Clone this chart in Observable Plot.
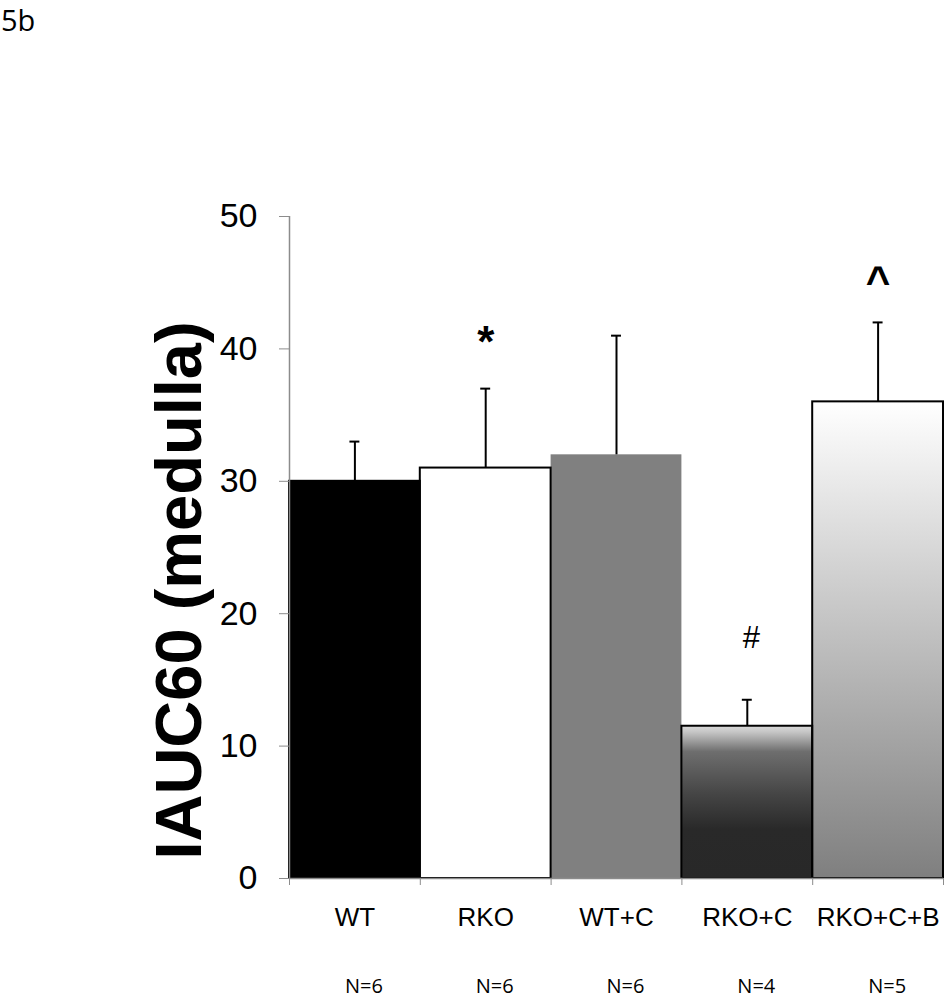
<!DOCTYPE html>
<html><head><meta charset="utf-8">
<script src="https://cdn.jsdelivr.net/npm/d3@7"></script>
<script src="https://cdn.jsdelivr.net/npm/@observablehq/plot@0.6"></script>
<style>
body{margin:0;background:#fff;}
#wrap{position:relative;width:945px;height:1000px;}
#tag{position:absolute;left:1px;top:0px;font-family:"Open Sans";font-size:29px;line-height:normal;color:#000;}
#chart svg{display:block;}
</style></head><body>
<div id="wrap"><div id="chart"></div><div id="tag">5b</div></div>
<script>
const groups = ["WT", "RKO", "WT+C", "RKO+C", "RKO+C+B"];
const means = [30, 31, 32, 11.5, 36];
const errors = [3, 6, 9, 2, 6];
const nLabels = ["N=6", "N=6", "N=6", "N=4", "N=5"];
const sigLabels = ["", "*", "", "#", "^"];
const sigLevels = [null, 39.4, null, 17.4, 44.0];
const yTicks = [0, 10, 20, 30, 40, 50];
const yLabel = "IAUC60 (medulla)";

const data = groups.map((g, i) => ({group: g, i, mean: means[i], err: errors[i], n: nLabels[i], sig: sigLabels[i], sigY: sigLevels[i]}));

const defs = () => {
  const ns = "http://www.w3.org/2000/svg";
  const d = document.createElementNS(ns, "defs");
  d.innerHTML = `
    <linearGradient id="gradRKOC" x1="0" y1="0" x2="0" y2="1">
      <stop offset="0" stop-color="#dadada"/>
      <stop offset="0.04" stop-color="#c6c6c6"/>
      <stop offset="0.17" stop-color="#6e6e6e"/>
      <stop offset="0.45" stop-color="#454545"/>
      <stop offset="0.68" stop-color="#292929"/>
      <stop offset="1" stop-color="#282828"/>
    </linearGradient>
    <linearGradient id="gradRKOCB" x1="0" y1="0" x2="0" y2="1">
      <stop offset="0" stop-color="#ffffff"/>
      <stop offset="1" stop-color="#7f7f7f"/>
    </linearGradient>`;
  return d;
};

const axisGray = "#8c8c8c";
const font = "'Liberation Sans', Arial, sans-serif";

const plot = Plot.plot({
  width: 945, height: 1000,
  marginTop: 216, marginBottom: 122, marginLeft: 289, marginRight: 2,
  style: {fontFamily: font, background: "white", color: "black"},
  x: {domain: [0, groups.length]},
  y: {domain: [0, 50]},
  color: {domain: groups, range: ["#000000", "#ffffff", "#808080", "url(#gradRKOC)", "url(#gradRKOCB)"]},
  marks: [
    defs,
    Plot.rectY(data, {x1: "i", x2: d => d.i + 1, y: "mean", fill: "group"}),
    Plot.rectY(data.filter(d => d.group !== "WT+C"), {x1: "i", x2: d => d.i + 1, y: "mean", fill: "none", stroke: "black", strokeWidth: 2}),
    Plot.ruleX(data, {x: d => d.i + 0.5, y1: "mean", y2: d => d.mean + d.err, stroke: "black", strokeWidth: 2}),
    Plot.ruleY(data, {y: d => d.mean + d.err, x1: d => d.i + 0.462, x2: d => d.i + 0.538, stroke: "black", strokeWidth: 2}),
    Plot.ruleX([0], {y1: 0, y2: 50, stroke: axisGray, strokeWidth: 1.5}),
    Plot.ruleY([0], {stroke: axisGray, strokeWidth: 1.5}),
    Plot.axisY({ticks: yTicks, tickSize: 10, tickPadding: 22, fontSize: 34, stroke: axisGray, fill: "black", label: null}),
    Plot.axisX({ticks: d3.range(groups.length + 1), tickSize: 7, tickFormat: () => "", stroke: axisGray, label: null}),
    Plot.text(data, {x: d => d.i + 0.5, text: "group", frameAnchor: "bottom", lineAnchor: "bottom", dy: 47, fontSize: 26}),
    Plot.text(data, {x: d => d.i + 0.5, text: "n", frameAnchor: "bottom", lineAnchor: "bottom", dy: 114, dx: 9, fontSize: 20, fontFamily: "Open Sans"}),
    Plot.text(data.filter(d => d.sig === "*"), {x: d => d.i + 0.5, y: "sigY", text: "sig", lineAnchor: "bottom", fontSize: 44, fontWeight: "bold"}),
    Plot.text(data.filter(d => d.sig === "^"), {x: d => d.i + 0.5, y: "sigY", text: "sig", lineAnchor: "bottom", fontSize: 42, fontWeight: "bold"}),
    Plot.text(data.filter(d => d.sig === "#"), {x: d => d.i + 0.5, y: "sigY", text: "sig", lineAnchor: "bottom", dx: 4, fontSize: 31}),
    Plot.text([yLabel], {text: d => d, frameAnchor: "left", rotate: -90, dx: -89, dy: 43, lineAnchor: "bottom", textAnchor: "middle", fontSize: 65, fontWeight: "bold"})
  ]
});
document.getElementById("chart").appendChild(plot);
</script>
</body></html>
